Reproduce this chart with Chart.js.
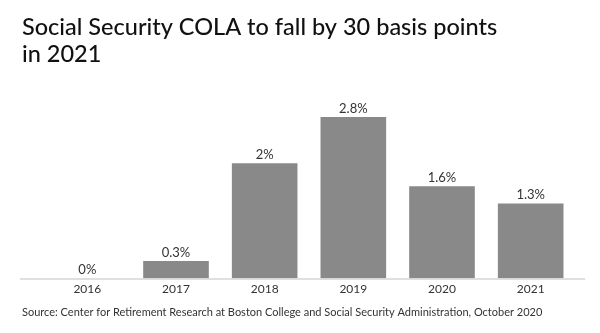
<!DOCTYPE html>
<html>
<head>
<meta charset="utf-8">
<script src="https://cdn.jsdelivr.net/npm/chart.js@4"></script>
<style>
  html, body { margin: 0; padding: 0; background: #fff; }
  #wrap { width: 600px; height: 333px; position: relative; }
</style>
</head>
<body>
<div id="wrap"><canvas id="myChart"></canvas></div>
<script>
// chart data
var years = ["2016", "2017", "2018", "2019", "2020", "2021"];
var colaValues = [0, 0.3, 2, 2.8, 1.6, 1.3];
var valueLabels = ["0%", "0.3%", "2%", "2.8%", "1.6%", "1.3%"];
var titleLines = ["Social Security COLA to fall by 30 basis points", "in 2021"];
var sourceText = "Source: Center for Retirement Research at Boston College and Social Security Administration, October 2020";

var FONT = "Lato, 'Open Sans', sans-serif";

// draws the % labels over bars and the long baseline
var barExtras = {
  id: "barExtras",
  afterDatasetsDraw: function (chart) {
    var ctx = chart.ctx;
    var meta = chart.getDatasetMeta(0);
    var yZero = chart.scales.y.getPixelForValue(0);
    ctx.save();
    ctx.strokeStyle = "#d4d4d4";
    ctx.lineWidth = 1.5;
    ctx.beginPath();
    ctx.moveTo(20, yZero + 0.5);
    ctx.lineTo(585, yZero + 0.5);
    ctx.stroke();

    ctx.fillStyle = "#333";
    ctx.font = "13px " + FONT;
    ctx.textAlign = "center";
    ctx.textBaseline = "bottom";
    meta.data.forEach(function (bar, i) {
      ctx.fillText(valueLabels[i], bar.x, bar.y - 2);
    });
    ctx.restore();
  }
};

var ctx = document.getElementById("myChart").getContext("2d");
var myChart = new Chart(ctx, {
  type: "bar",
  data: {
    labels: years,
    datasets: [{
      data: colaValues,
      backgroundColor: "#898989",
      categoryPercentage: 1,
      barPercentage: 0.74
    }]
  },
  options: {
    responsive: true,
    maintainAspectRatio: false,
    animation: false,
    layout: {
      padding: { left: 22, right: 25, top: 0, bottom: 0 }
    },
    plugins: {
      legend: { display: false },
      tooltip: { enabled: false },
      title: {
        display: true,
        text: titleLines,
        align: "start",
        color: "#111",
        font: { family: FONT, size: 23.5, weight: 500, lineHeight: 1.15 },
        padding: { top: 14, bottom: 26 }
      },
      subtitle: {
        display: true,
        position: "bottom",
        text: sourceText,
        align: "start",
        color: "#333",
        font: { family: FONT, size: 11 },
        padding: { top: 5, bottom: 14 }
      }
    },
    scales: {
      x: {
        grid: { display: false, drawTicks: false },
        border: { display: false },
        ticks: { color: "#333", font: { family: FONT, size: 12 }, padding: 4 }
      },
      y: {
        min: 0,
        max: 3.2,
        grid: { display: false },
        border: { display: false },
        ticks: { display: false },
        afterFit: function (scale) { scale.width = 21; }
      }
    }
  },
  plugins: [barExtras]
});
</script>
</body>
</html>
